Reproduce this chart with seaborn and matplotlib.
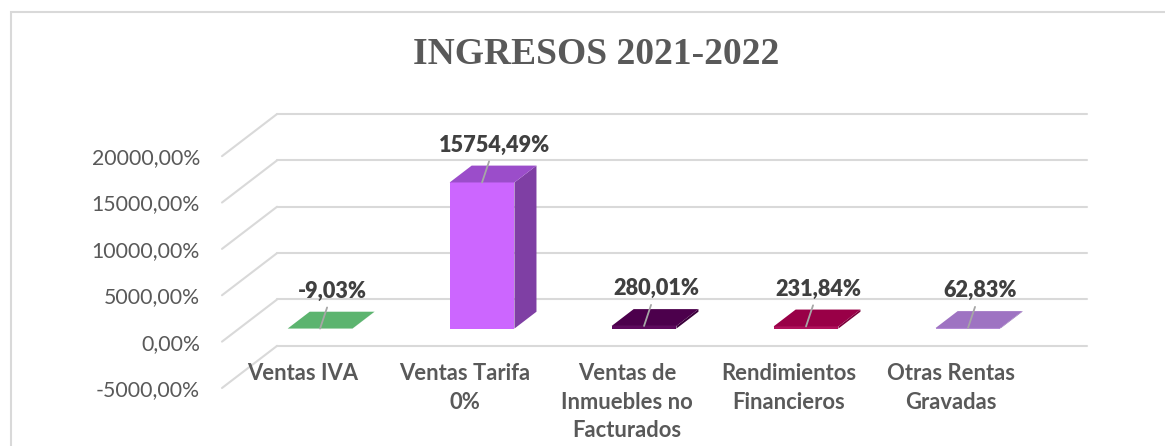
import pandas as pd
import numpy as np
import matplotlib
matplotlib.use('Agg')
import matplotlib.pyplot as plt
import matplotlib.transforms as mtransforms
from matplotlib.patches import Polygon, Rectangle
import seaborn as sns

# chart data
categories = ['Ventas IVA', 'Ventas Tarifa\n0%', 'Ventas de\nInmuebles no\nFacturados',
              'Rendimientos\nFinancieros', 'Otras Rentas\nGravadas']
values = [-9.03, 15754.49, 280.01, 231.84, 62.83]
value_labels = ['-9,03%', '15754,49%', '280,01%', '231,84%', '62,83%']
yticks = [-5000, 0, 5000, 10000, 15000, 20000]
ytick_labels = ['-5000,00%', '0,00%', '5000,00%', '10000,00%', '15000,00%', '20000,00%']
title = 'INGRESOS 2021-2022'

front_colors = ['#6cc382', '#cc66ff', '#5e0a5e', '#b0125c', '#b48ad6']
top_colors = ['#5cb46f', '#9b4dca', '#4c004c', '#990047', '#9e73c2']
side_colors = ['#489458', '#7f3fa4', '#3a003a', '#7a0039', '#8460a6']

sns.set_style('white')
plt.rcParams['font.family'] = ['Lato', 'DejaVu Sans']

# fake 3D: depth offset in data units
DX = 0.34      # category units
DY = 4545.0    # value units
D0, D1 = 0.31, 0.71
W = 0.4
grid_col = '#d9d9d9'

fig = plt.figure(figsize=(11.65, 4.46), dpi=100)
ax = fig.add_axes([222 / 1165, 58 / 446, 865 / 1165, 274 / 446])

df = pd.DataFrame({'cat': categories, 'val': values})
sns.barplot(data=df, x='cat', y='val', hue='cat', palette=front_colors, legend=False,
            width=W, saturation=1, errorbar=None, linewidth=0, ax=ax, zorder=3)

# move front faces onto their depth plane
shift = mtransforms.Affine2D().translate(0.5 + D0 * DX, D0 * DY) + ax.transData
for p in ax.patches:
    p.set_transform(shift)


def proj(x, v, d):
    return (x + d * DX, v + d * DY)


# walls / gridlines
for v in yticks:
    ax.plot([DX, 5 + DX], [v + DY, v + DY], color=grid_col, lw=1.5, zorder=0, clip_on=False)
    ax.plot([0, DX], [v, v + DY], color=grid_col, lw=1.5, zorder=0, clip_on=False)

# top and side faces
for k, v in enumerate(values):
    xc = k + 0.5
    lo, hi = min(0, v), max(0, v)
    xl, xr = xc - W / 2, xc + W / 2
    side = [proj(xr, lo, D0), proj(xr, hi, D0), proj(xr, hi, D1), proj(xr, lo, D1)]
    top = [proj(xl, hi, D0), proj(xr, hi, D0), proj(xr, hi, D1), proj(xl, hi, D1)]
    ax.add_patch(Polygon(side, closed=True, facecolor=side_colors[k], edgecolor='none', zorder=2))
    ax.add_patch(Polygon(top, closed=True, facecolor=top_colors[k], edgecolor='none', zorder=4))

    ax.annotate(value_labels[k], xy=proj(xc, hi, D0), xytext=(9, 27), textcoords='offset points',
                ha='center', va='center', fontsize=15.6, fontweight='heavy', color='#404040',
                arrowprops=dict(arrowstyle='-', color='#a6a6a6', lw=1.3, shrinkA=2, shrinkB=0),
                zorder=6)

    ax.text(xc, -2350, categories[k], ha='center', va='top', fontsize=15.8, fontweight='bold',
            color='#595959', linespacing=1.42)

ax.set_xlim(0, 5 + DX)
ax.set_ylim(-5000, 20000 + DY)
ax.set_xticks([])
ax.set_xlabel('')
ax.set_ylabel('')
ax.set_yticks(yticks, ytick_labels)
ax.tick_params(axis='y', length=0, pad=16, labelsize=15.3, labelcolor='#595959')
sns.despine(ax=ax, left=True, bottom=True)

fig.text(0.512, 0.877, title, ha='center', va='center', fontsize=27, fontweight='bold',
         family='Liberation Serif', color='#595959')

fig.add_artist(Rectangle((11 / 1165, -0.1), 1.2, 1.1 - 12 / 446, transform=fig.transFigure,
                         fill=False, edgecolor=grid_col, lw=1.5))

fig.savefig('out.png', dpi=100, facecolor='white')
